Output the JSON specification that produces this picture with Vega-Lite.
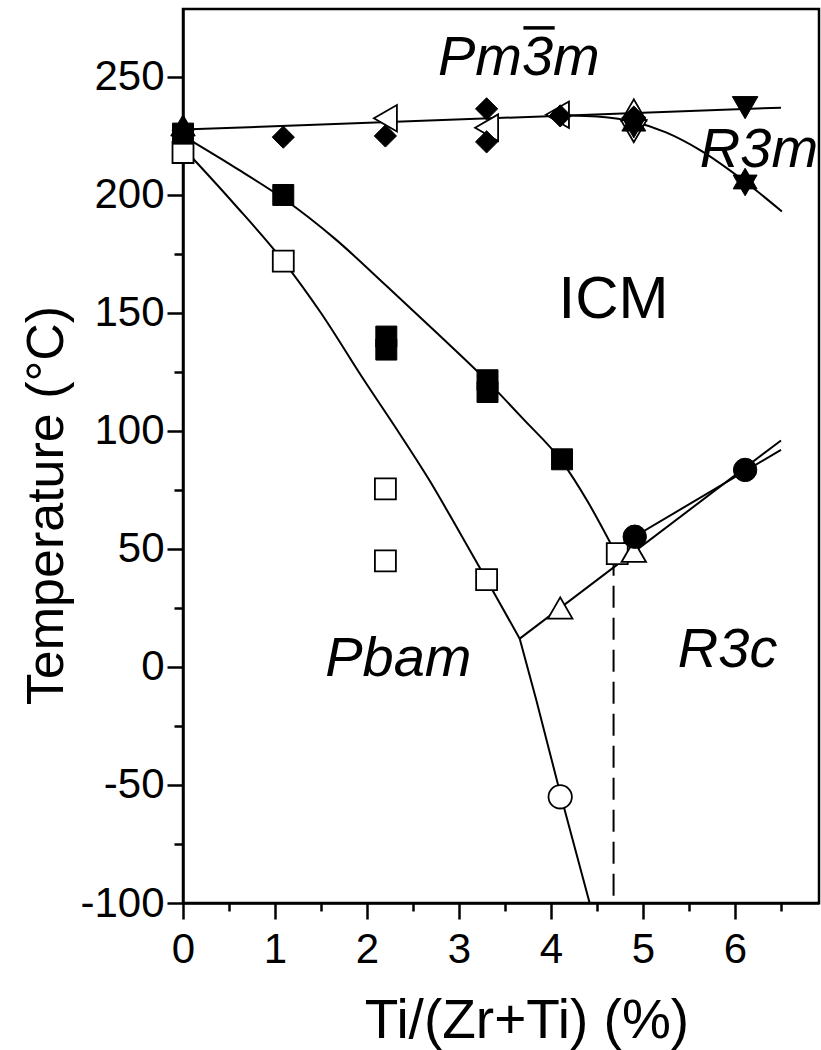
{
  "$schema": "https://vega.github.io/schema/vega-lite/v6.json",
  "width": 636,
  "height": 894,
  "autosize": {"type": "none"},
  "padding": {"left": 183, "top": 9, "right": 2, "bottom": 147},
  "background": "white",
  "config": {
    "view": {"stroke": "black", "strokeWidth": 2.5},
    "font": "Liberation Sans",
    "axis": {
      "domainColor": "black", "domainWidth": 2.5, "tickColor": "black", "tickWidth": 2.5,
      "grid": false, "labelColor": "black", "titleColor": "black",
      "labelFont": "Liberation Sans", "titleFont": "Liberation Sans", "titleFontWeight": "normal"
    }
  },
  "datasets": {
    "curves": [
      {"curve": "cubic", "x": 0, "y": 227.7}, {"curve": "cubic", "x": 6.5, "y": 237},
      {"curve": "rhombo", "x": 4.2, "y": 233.7}, {"curve": "rhombo", "x": 4.5, "y": 233.2}, {"curve": "rhombo", "x": 4.9, "y": 231}, {"curve": "rhombo", "x": 5.25, "y": 226.5}, {"curve": "rhombo", "x": 5.62, "y": 219}, {"curve": "rhombo", "x": 6.11, "y": 205.6}, {"curve": "rhombo", "x": 6.51, "y": 193},
      {"curve": "icm_upper", "x": 0, "y": 225}, {"curve": "icm_upper", "x": 0.55, "y": 212}, {"curve": "icm_upper", "x": 1.09, "y": 198.5}, {"curve": "icm_upper", "x": 1.65, "y": 181.5}, {"curve": "icm_upper", "x": 2.21, "y": 161.5}, {"curve": "icm_upper", "x": 2.76, "y": 141.5}, {"curve": "icm_upper", "x": 3.31, "y": 121}, {"curve": "icm_upper", "x": 3.7, "y": 105}, {"curve": "icm_upper", "x": 4.12, "y": 87}, {"curve": "icm_upper", "x": 4.4, "y": 70}, {"curve": "icm_upper", "x": 4.68, "y": 50},
      {"curve": "pbam_a", "x": 0, "y": 220}, {"curve": "pbam_a", "x": 0.55, "y": 196.5}, {"curve": "pbam_a", "x": 1.09, "y": 172}, {"curve": "pbam_a", "x": 1.5, "y": 150}, {"curve": "pbam_a", "x": 1.96, "y": 122}, {"curve": "pbam_a", "x": 2.36, "y": 98.5}, {"curve": "pbam_a", "x": 2.68, "y": 79}, {"curve": "pbam_a", "x": 3.0, "y": 57.5}, {"curve": "pbam_a", "x": 3.3, "y": 37}, {"curve": "pbam_a", "x": 3.66, "y": 12},
      {"curve": "pbam_b", "x": 3.66, "y": 12}, {"curve": "pbam_b", "x": 3.84, "y": -14}, {"curve": "pbam_b", "x": 4.11, "y": -55}, {"curve": "pbam_b", "x": 4.42, "y": -100},
      {"curve": "r3c_a", "x": 3.66, "y": 12}, {"curve": "r3c_a", "x": 6.5, "y": 96},
      {"curve": "r3c_b", "x": 4.68, "y": 50}, {"curve": "r3c_b", "x": 6.5, "y": 92}
    ],
    "markers": [
      {"x": 0, "y": 218, "symbol": "square", "style": "open"},
      {"x": 1.09, "y": 172, "symbol": "square", "style": "open"},
      {"x": 2.2, "y": 75.5, "symbol": "square", "style": "open"},
      {"x": 2.2, "y": 45, "symbol": "square", "style": "open"},
      {"x": 3.3, "y": 37, "symbol": "square", "style": "open"},
      {"x": 4.72, "y": 48, "symbol": "square", "style": "open"},
      {"x": 2.2, "y": 232.5, "symbol": "triangle-left", "style": "open"},
      {"x": 3.3, "y": 228.5, "symbol": "triangle-left", "style": "open"},
      {"x": 4.07, "y": 234, "symbol": "triangle-left", "style": "open"},
      {"x": 4.9, "y": 236, "symbol": "triangle-up", "style": "open"},
      {"x": 4.9, "y": 227, "symbol": "triangle-down", "style": "open"},
      {"x": 4.1, "y": 25, "symbol": "triangle-up", "style": "open"},
      {"x": 4.9, "y": 49, "symbol": "triangle-up", "style": "open"},
      {"x": 4.1, "y": -55, "symbol": "circle", "style": "open"},
      {"x": 0, "y": 229.5, "symbol": "triangle-up", "style": "filled"},
      {"x": 0, "y": 227.5, "symbol": "diamond", "style": "filled"},
      {"x": 1.09, "y": 224.5, "symbol": "diamond", "style": "filled"},
      {"x": 2.2, "y": 225, "symbol": "diamond", "style": "filled"},
      {"x": 3.3, "y": 236.5, "symbol": "diamond", "style": "filled"},
      {"x": 3.3, "y": 222.5, "symbol": "diamond", "style": "filled"},
      {"x": 4.1, "y": 233.5, "symbol": "diamond", "style": "filled"},
      {"x": 4.9, "y": 233, "symbol": "diamond", "style": "filled"},
      {"x": 0, "y": 226, "symbol": "square", "style": "filled"},
      {"x": 1.09, "y": 200, "symbol": "square", "style": "filled"},
      {"x": 2.21, "y": 140, "symbol": "square", "style": "filled"},
      {"x": 2.21, "y": 134.5, "symbol": "square", "style": "filled"},
      {"x": 3.31, "y": 121.5, "symbol": "square", "style": "filled"},
      {"x": 3.31, "y": 116.5, "symbol": "square", "style": "filled"},
      {"x": 4.12, "y": 88, "symbol": "square", "style": "filled"},
      {"x": 6.11, "y": 237, "symbol": "triangle-down", "style": "filled"},
      {"x": 4.9, "y": 230, "symbol": "star", "style": "filled"},
      {"x": 6.11, "y": 205.5, "symbol": "star", "style": "filled"},
      {"x": 4.91, "y": 55.2, "symbol": "circle", "style": "filled"},
      {"x": 6.11, "y": 83.5, "symbol": "circle", "style": "filled"}
    ],
    "dashed": [{"x": 4.68, "y": 48, "y2": -100}],
    "overbar": [{"x": 3.70, "x2": 4.04, "y": 270.8}],
    "italic_labels": [
      {"label": "Pm3m", "x": 3.65, "y": 250.8},
      {"label": "R3m", "x": 6.26, "y": 212},
      {"label": "Pbam", "x": 2.34, "y": -4},
      {"label": "R3c", "x": 5.92, "y": 0.1}
    ],
    "plain_labels": [
      {"label": "ICM", "x": 4.68, "y": 148}
    ]
  },
  "layer": [
    {
      "data": {"name": "curves"},
      "mark": {"type": "line", "interpolate": "monotone", "color": "black", "strokeWidth": 2},
      "encoding": {
        "x": {"field": "x", "type": "quantitative", "scale": {"domain": [0, 6.913], "nice": false, "zero": false},
          "axis": {"values": [0, 1, 2, 3, 4, 5, 6], "tickSize": 16, "labelFontSize": 42, "labelPadding": 43, "labelBaseline": "alphabetic", "labelFlush": false, "labelOverlap": false,
            "title": "Ti/(Zr+Ti) (%)", "titleFontSize": 55, "titleX": 343.5, "titleY": 134, "titleBaseline": "alphabetic", "titleAlign": "center", "orient": "bottom"}},
        "y": {"field": "y", "type": "quantitative", "scale": {"domain": [-100, 278.8], "nice": false, "zero": false},
          "axis": {"values": [-100, -50, 0, 50, 100, 150, 200, 250], "tickSize": 16, "labelFontSize": 42, "labelPadding": 3, "labelFlush": false, "labelOverlap": false,
            "labelExpr": "datum.value < 0 ? '-' + abs(datum.value) : '' + datum.value",
            "title": "Temperature (°C)", "titleFontSize": 52, "titleX": -121, "titleY": 496, "titleBaseline": "alphabetic", "titleAlign": "center", "titleAngle": -90, "orient": "left"}},
        "detail": {"field": "curve", "type": "nominal"}
      }
    },
    {
      "data": {"name": "curves"},
      "mark": {"type": "point", "opacity": 0},
      "encoding": {
        "x": {"field": "x", "type": "quantitative", "scale": {"domain": [0, 6.913], "nice": false, "zero": false},
          "axis": {"values": [0.5, 1.5, 2.5, 3.5, 4.5, 5.5, 6.5], "tickSize": 8, "labels": false, "domain": false, "title": null, "orient": "bottom"}},
        "y": {"field": "y", "type": "quantitative", "scale": {"domain": [-100, 278.8], "nice": false, "zero": false},
          "axis": {"values": [-75, -25, 25, 75, 125, 175, 225], "tickSize": 9, "labels": false, "domain": false, "title": null, "orient": "left"}}
      }
    },
    {
      "data": {"name": "dashed"},
      "mark": {"type": "rule", "color": "black", "strokeWidth": 2, "strokeDash": [22, 10]},
      "encoding": {
        "x": {"field": "x", "type": "quantitative", "scale": {"domain": [0, 6.913], "nice": false, "zero": false}, "axis": null},
        "y": {"field": "y", "type": "quantitative", "scale": {"domain": [-100, 278.8], "nice": false, "zero": false}, "axis": null},
        "y2": {"field": "y2"}
      }
    },
    {
      "data": {"name": "markers"},
      "transform": [{"filter": "datum.style === 'open'"}],
      "mark": {"type": "point", "filled": true, "fill": "white", "stroke": "black", "strokeWidth": 1.8, "opacity": 1},
      "encoding": {
        "x": {"field": "x", "type": "quantitative", "scale": {"domain": [0, 6.913], "nice": false, "zero": false}, "axis": null},
        "y": {"field": "y", "type": "quantitative", "scale": {"domain": [-100, 278.8], "nice": false, "zero": false}, "axis": null},
        "shape": {"field": "symbol", "type": "nominal", "legend": null,
          "scale": {"domain": ["square", "diamond", "circle", "triangle-up", "triangle-down", "triangle-left", "star"],
            "range": ["square", "M0,-1L1,0L0,1L-1,0Z", "circle", "triangle-up", "triangle-down", "triangle-left", "M0,-1L0.289,-0.5L0.866,-0.5L0.577,0L0.866,0.5L0.289,0.5L0,1L-0.289,0.5L-0.866,0.5L-0.577,0L-0.866,-0.5L-0.289,-0.5Z"]}},
        "size": {"field": "symbol", "type": "nominal", "legend": null,
          "scale": {"domain": ["square", "diamond", "circle", "triangle-up", "triangle-down", "triangle-left", "star"],
            "range": [440, 760, 420, 480, 480, 480, 650]}}
      }
    },
    {
      "data": {"name": "markers"},
      "transform": [{"filter": "datum.style === 'filled'"}],
      "mark": {"type": "point", "filled": true, "fill": "black", "stroke": "black", "strokeWidth": 1, "opacity": 1},
      "encoding": {
        "x": {"field": "x", "type": "quantitative", "scale": {"domain": [0, 6.913], "nice": false, "zero": false}, "axis": null},
        "y": {"field": "y", "type": "quantitative", "scale": {"domain": [-100, 278.8], "nice": false, "zero": false}, "axis": null},
        "shape": {"field": "symbol", "type": "nominal", "legend": null,
          "scale": {"domain": ["square", "diamond", "circle", "triangle-up", "triangle-down", "triangle-left", "star"],
            "range": ["square", "M0,-1L1,0L0,1L-1,0Z", "circle", "triangle-up", "triangle-down", "triangle-left", "M0,-1L0.289,-0.5L0.866,-0.5L0.577,0L0.866,0.5L0.289,0.5L0,1L-0.289,0.5L-0.866,0.5L-0.577,0L-0.866,-0.5L-0.289,-0.5Z"]}},
        "size": {"field": "symbol", "type": "nominal", "legend": null,
          "scale": {"domain": ["square", "diamond", "circle", "triangle-up", "triangle-down", "triangle-left", "star"],
            "range": [460, 760, 420, 480, 480, 480, 650]}}
      }
    },
    {
      "data": {"name": "overbar"},
      "mark": {"type": "rule", "color": "black", "strokeWidth": 3.5},
      "encoding": {
        "x": {"field": "x", "type": "quantitative", "scale": {"domain": [0, 6.913], "nice": false, "zero": false}, "axis": null},
        "x2": {"field": "x2"},
        "y": {"field": "y", "type": "quantitative", "scale": {"domain": [-100, 278.8], "nice": false, "zero": false}, "axis": null}
      }
    },
    {
      "data": {"name": "italic_labels"},
      "mark": {"type": "text", "fontSize": 56, "fontStyle": "italic", "font": "Liberation Sans", "color": "black", "baseline": "alphabetic", "align": "center"},
      "encoding": {
        "x": {"field": "x", "type": "quantitative", "scale": {"domain": [0, 6.913], "nice": false, "zero": false}, "axis": null},
        "y": {"field": "y", "type": "quantitative", "scale": {"domain": [-100, 278.8], "nice": false, "zero": false}, "axis": null},
        "text": {"field": "label"}
      }
    },
    {
      "data": {"name": "plain_labels"},
      "mark": {"type": "text", "fontSize": 60, "font": "Liberation Sans", "color": "black", "baseline": "alphabetic", "align": "center"},
      "encoding": {
        "x": {"field": "x", "type": "quantitative", "scale": {"domain": [0, 6.913], "nice": false, "zero": false}, "axis": null},
        "y": {"field": "y", "type": "quantitative", "scale": {"domain": [-100, 278.8], "nice": false, "zero": false}, "axis": null},
        "text": {"field": "label"}
      }
    }
  ],
  "resolve": {"axis": {"x": "independent", "y": "independent"}}
}
